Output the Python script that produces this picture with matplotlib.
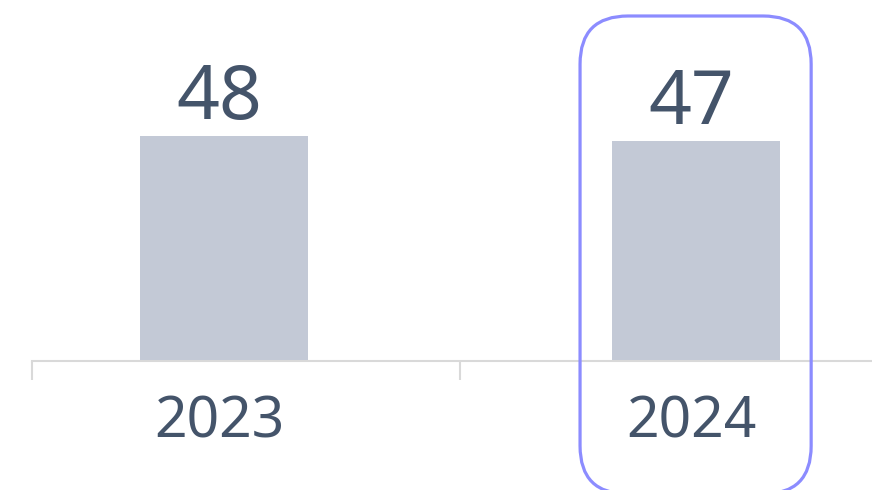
import matplotlib.pyplot as plt
from matplotlib.patches import FancyBboxPatch
from matplotlib.transforms import IdentityTransform, ScaledTranslation

years = ['2023', '2024']
values = [48, 47]
highlight = 1   # index of the highlighted year

text_col = '#44546a'
bar_col = '#c3c9d6'
axis_col = '#d9d9d9'
hl_col = '#8c8cff'

plt.rcParams['font.family'] = ['Noto Sans', 'DejaVu Sans']

fig = plt.figure(figsize=(8.72, 4.90), dpi=100)
# axes from x=32px to right edge, baseline at 361px from top
ax = fig.add_axes([32 / 872, 129 / 490, 840 / 872, 361 / 490])

x = list(range(len(years)))
ax.bar(x, values, width=0.356, color=bar_col, zorder=2)

x0 = -0.407
ax.set_xlim(x0, 1.374)
ax.set_ylim(0, 77)

for xi, v in zip(x, values):
    ax.annotate(str(v), (xi, v), xytext=(-3, 12), textcoords='offset points',
                ha='center', va='baseline', fontsize=54, color=text_col)

for s in ['top', 'right', 'left']:
    ax.spines[s].set_visible(False)
ax.spines['bottom'].set_color(axis_col)
ax.spines['bottom'].set_linewidth(1.5)
ax.set_yticks([])

ax.set_xticks(x)
ax.set_xticklabels(years)
ax.tick_params(axis='x', which='major', length=0, pad=24, labelsize=41,
               labelcolor=text_col)
shift = ScaledTranslation(-3 / 72, 0, fig.dpi_scale_trans)
for lab in ax.get_xticklabels():
    lab.set_transform(lab.get_transform() + shift)
ax.set_xticks([x0, 0.5], minor=True)
ax.tick_params(axis='x', which='minor', length=14, width=1.5, color=axis_col)

# rounded highlight box around the chosen year
fig.canvas.draw()
left = ax.transData.transform((x[highlight] - 0.245, 0))[0]
right = ax.transData.transform((x[highlight] + 0.245, 0))[0]
top = 490 - 16
bottom = -4
box = FancyBboxPatch((left, bottom), right - left, top - bottom,
                     boxstyle='round,pad=0,rounding_size=48',
                     transform=IdentityTransform(), fill=False,
                     edgecolor=hl_col, linewidth=2.3, clip_on=False, zorder=5)
fig.patches.append(box)

plt.savefig('out.png', dpi=100)
